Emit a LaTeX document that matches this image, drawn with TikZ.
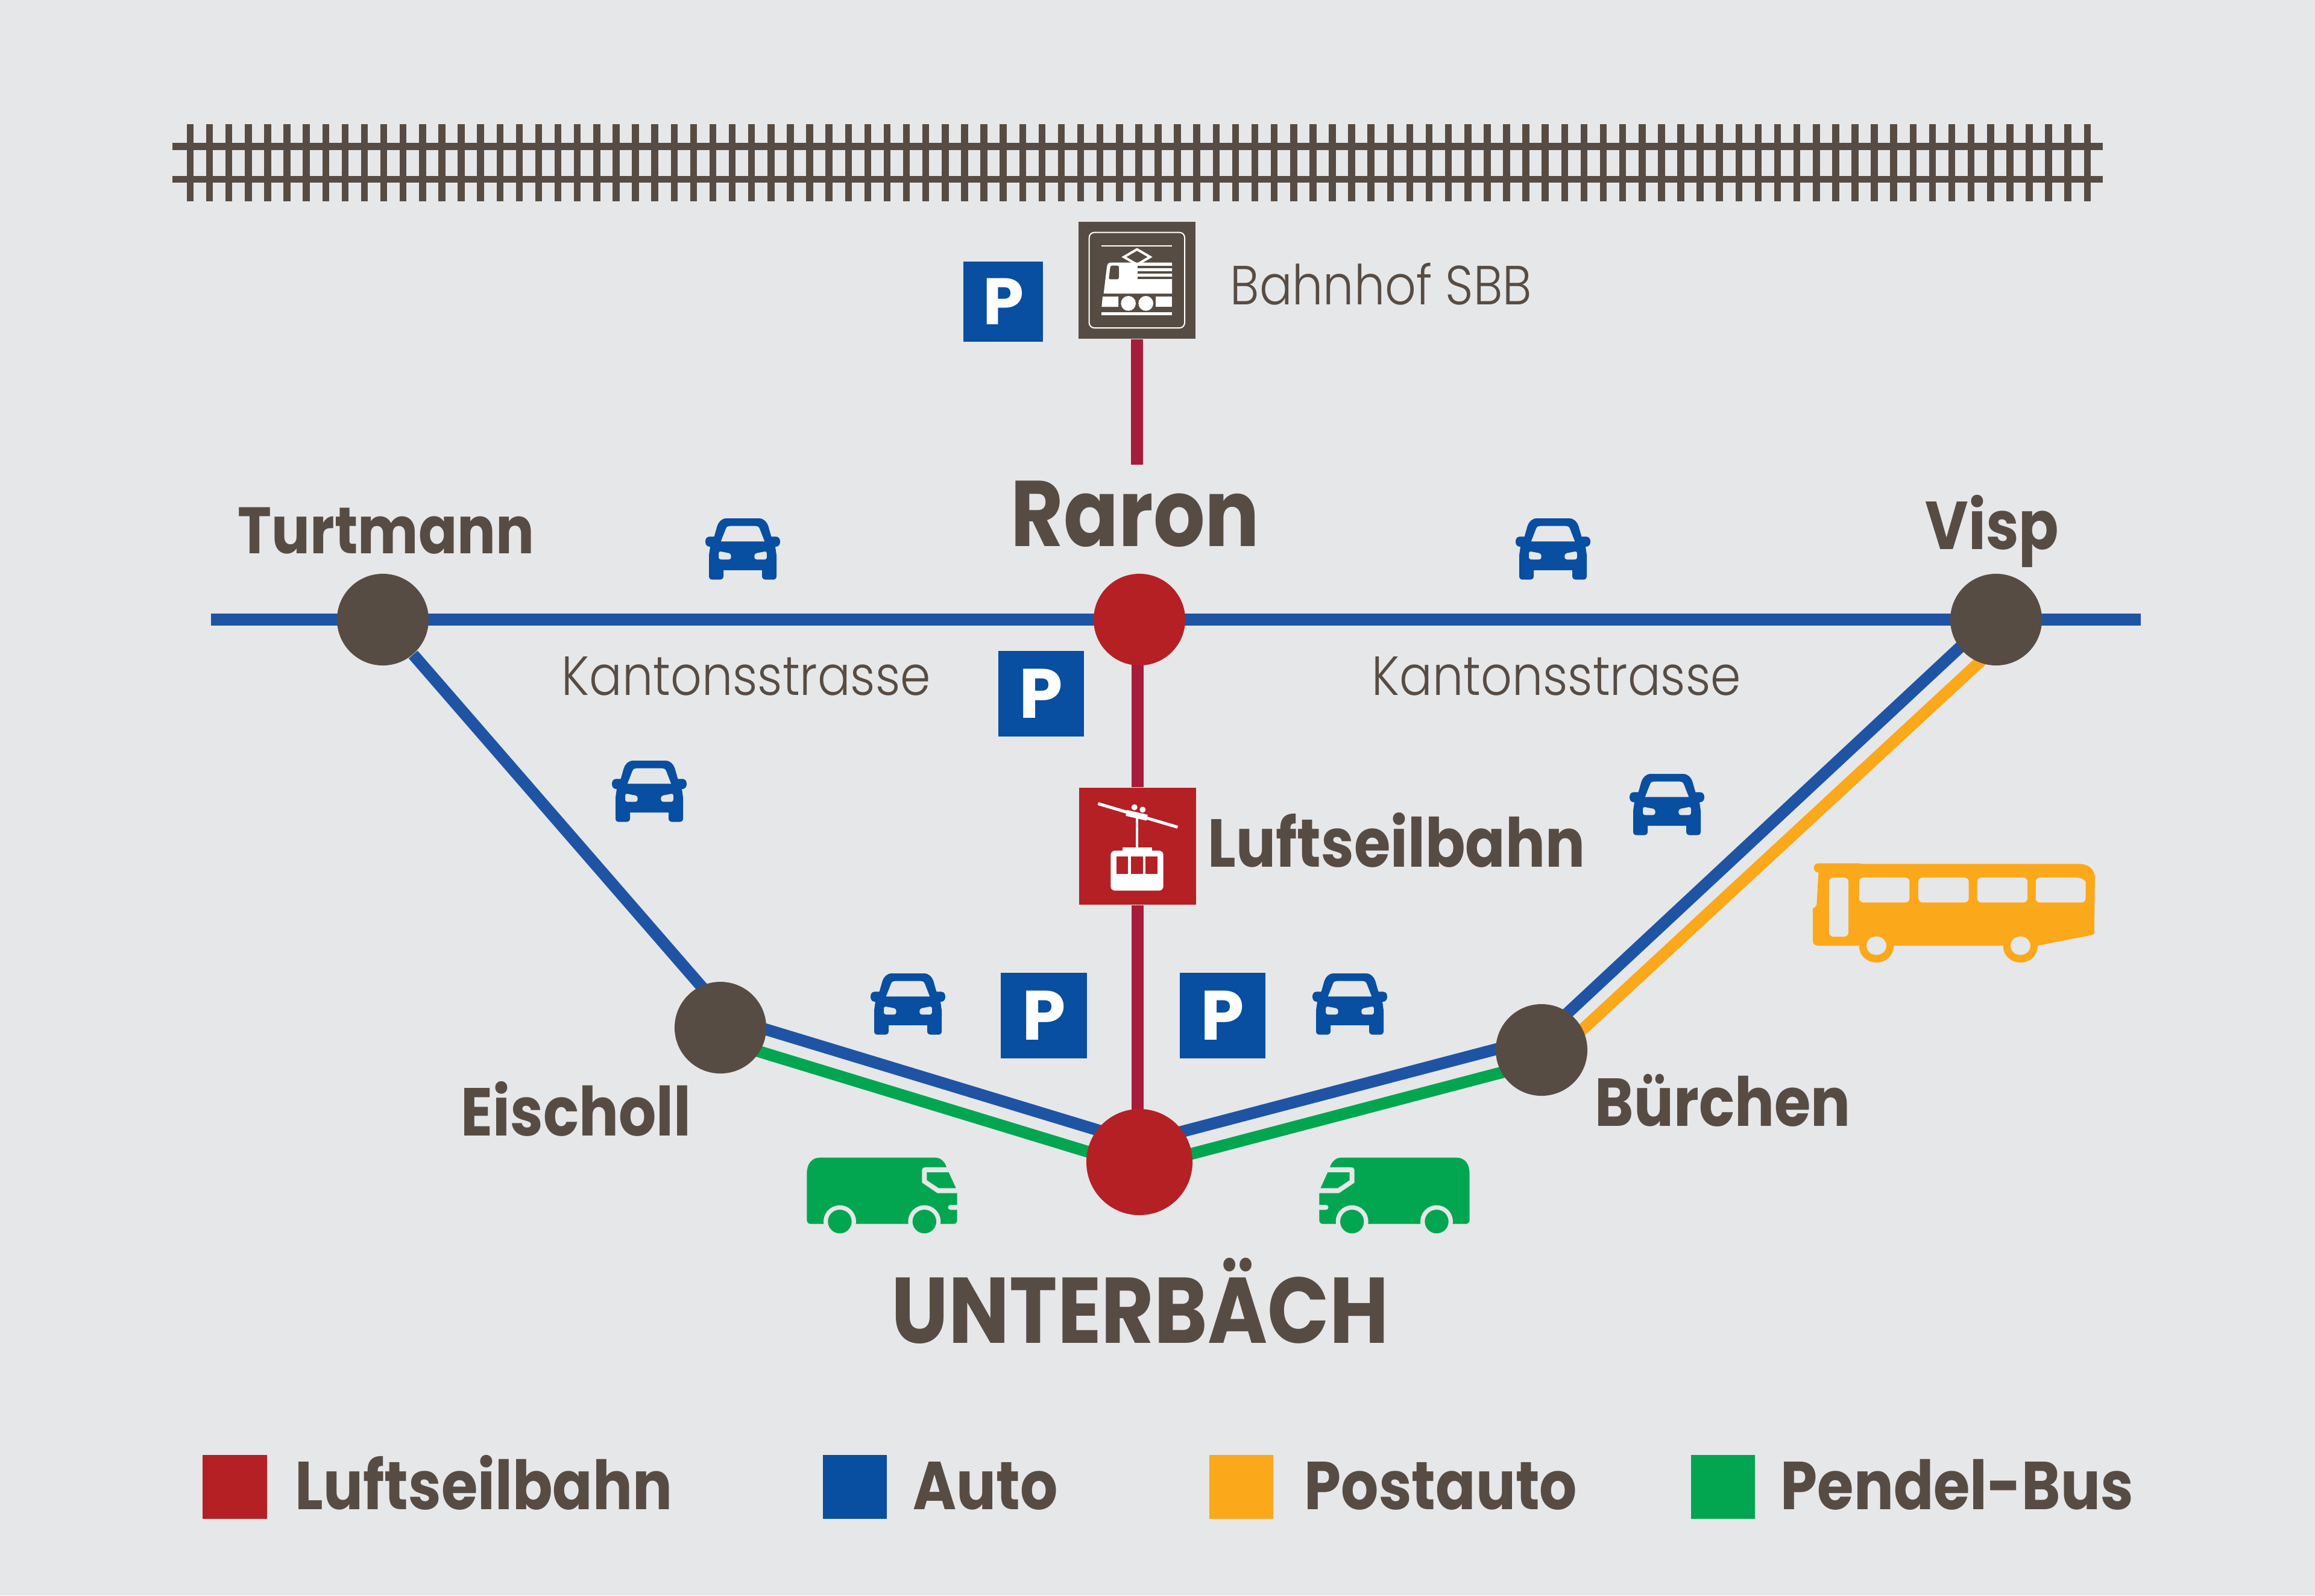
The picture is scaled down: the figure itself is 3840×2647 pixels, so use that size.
\documentclass[tikz,border=0pt]{standalone}
\usepackage{fontspec}
\setmainfont{Poppins}
\newfontfamily\namefont{Poppins Bold}[FakeStretch=0.87]
\newfontfamily\parkfont{Poppins Bold}
\newfontfamily\thinfont{Poppins Light}[FakeStretch=0.885]
\usetikzlibrary{backgrounds,calc}

\definecolor{paper}{HTML}{E6E7E9}
\definecolor{umber}{HTML}{574C43}
\definecolor{cablered}{HTML}{B52025}
\definecolor{wine}{HTML}{A71C3A}
\definecolor{roadblue}{HTML}{1F54A5}
\definecolor{signblue}{HTML}{084EA1}
\definecolor{postorange}{HTML}{FCA81B}
\definecolor{busgreen}{HTML}{02A651}

\tikzset{
	stopnode/.style={circle, fill=umber, minimum size=1.52cm, inner sep=0},
	bigstop/.style={stopnode, fill=cablered},
	parknode/.style={rectangle, fill=signblue, text=white, font=\fontsize{33}{33}\parkfont\selectfont, minimum size=1.42cm, inner sep=0},
	keybox/.style={rectangle, minimum size=1.06cm, inner sep=0},
	signbox/.style={rectangle, minimum size=1.94cm, inner sep=0},
	townname/.style={anchor=base west, inner sep=0, text=umber, font=\fontsize{32}{32}\namefont\selectfont},
	bigname/.style={anchor=base, inner sep=0, text=umber, font=\fontsize{44}{44}\namefont\selectfont},
	thinname/.style={anchor=base west, inner sep=0, text=umber, font=\fontsize{26}{26}\thinfont\selectfont},
	route/.style={line width=.195cm},
	rail/.style={draw=umber, line width=.115cm},
	pics/car/.style={code={
		\fill[signblue, even odd rule] (-80,-153) -- (80,-153) .. controls (105,-153) and (120,-135) .. (127,-115) -- (142,-62) -- (165,-62)
			.. controls (180,-62) and (186,-50) .. (186,-37) .. controls (186,-25) and (180,-12) .. (165,-12) -- (162,-12) -- (168,30) -- (168,135)
			.. controls (168,147) and (160,152) .. (150,152) -- (115,152) .. controls (103,152) and (96,145) .. (96,135) -- (96,105)
			-- (-96,105) -- (-96,135) .. controls (-96,145) and (-103,152) .. (-115,152) -- (-150,152) .. controls (-160,152) and (-168,147) .. (-168,135)
			-- (-168,30) -- (-162,-12) -- (-165,-12) .. controls (-180,-12) and (-186,-25) .. (-186,-37) .. controls (-186,-50) and (-180,-62) .. (-165,-62)
			-- (-142,-62) -- (-127,-115) .. controls (-120,-135) and (-105,-153) .. (-80,-153) -- cycle
			(-109,-38) -- (-85,-100) .. controls (-80,-112) and (-75,-115) .. (-65,-115) -- (65,-115) .. controls (75,-115) and (80,-112) .. (85,-100) -- (109,-38) -- cycle
			[rounded corners=1pt] (-120,10) -- (-58,22) -- (-58,52) -- (-120,52) -- cycle
			(120,10) -- (58,22) -- (58,52) -- (120,52) -- cycle;
	}},
	pics/van/.style={code={
		\begin{scope}[shift={(-999,-1207)}]
		\fill[busgreen] (625,1330) .. controls (625,1342) and (633,1350) .. (645,1350) -- (1355,1350) .. controls (1367,1350) and (1373,1342) .. (1373,1330)
			-- (1373,1280) -- (1340,1280) .. controls (1323,1280) and (1323,1255) .. (1340,1255) -- (1373,1255) -- (1373,1197) -- (1275,1197) -- (1198,1145)
			-- (1198,1085) .. controls (1198,1073) and (1203,1068) .. (1215,1068) -- (1320,1068) .. controls (1312,1040) and (1290,1020) .. (1265,1020)
			-- (690,1020) .. controls (650,1020) and (625,1050) .. (625,1100) -- cycle;
		\fill[busgreen] (1222,1093) -- (1331,1093) -- (1367,1172) -- (1282,1172) -- (1222,1132) -- cycle;
		\foreach \wx in {789,1210} {
			\fill[paper] (\wx,1338) circle (81);
			\fill[busgreen] (\wx,1338) circle (59);
		}
		\end{scope}
	}},
	pics/bus/.style={code={
		\begin{scope}[shift={(-815,-405)}]
		\foreach \wx in {455,1124} \fill[postorange] (\wx,571) circle (80);
		\fill[postorange] (185,157) -- (375,157) -- (390,160) -- (1400,160) .. controls (1440,160) and (1470,190) .. (1470,225) -- (1467,505) -- (1460,513) -- (1203,567)
			-- (185,567) .. controls (170,567) and (160,558) .. (160,545) -- (160,382) .. controls (170,378) and (178,368) .. (178,355) -- (186,203)
			.. controls (155,200) and (160,157) .. (185,157) -- cycle;
		\foreach \wx in {455,1124} \fill[paper] (\wx,567) circle (46);
		\fill[paper, rounded corners=2pt] (235,228) rectangle (325,522);
		\foreach \wx in {375,650,923} \fill[paper, rounded corners=2pt] (\wx,228) rectangle ++(234,124);
		\fill[paper, rounded corners=2pt] (1195,228) -- (1370,228) .. controls (1405,228) and (1427,245) .. (1427,270) -- (1427,352) -- (1195,352) -- cycle;
		\end{scope}
	}},
	pics/loco/.style={code={
		\begin{scope}[shift={(-1158,-496)}]
		\draw[white, line width=.02cm, rounded corners=2.4pt] (920,258) rectangle (1395,733);
		\fill[white] (982,321) rectangle (1333,329);
		\fill[white] (982,655) rectangle (1333,669);
		\draw[white, line width=.04cm] (1158,342) -- (1223,380) -- (1158,418) -- (1093,380) -- cycle;
		\fill[white] (1028,408) -- (1332,408) -- (1332,562) -- (992,562) -- (1008,430) .. controls (1010,415) and (1016,408) .. (1028,408) -- cycle;
		\fill[umber, rounded corners=.8pt] (1026,423) -- (1068,423) -- (1068,491) -- (1017,491) -- cycle;
		\foreach \sy in {423,450,478} \fill[umber] (1160,\sy) rectangle (1332,\sy+13);
		\fill[white] (987,577) -- (1065,577) -- (1065,628) -- (982,628) -- cycle;
		\fill[white] (1250,577) rectangle (1333,628);
		\foreach \wx in {1115,1202} \fill[white] (\wx,611) circle (37);
		\end{scope}
	}},
	pics/gondola/.style={code={
		\begin{scope}[shift={(-561,-462)}]
		\draw[white, line width=.05cm] (364,250) -- (760,367);
		\draw[white, line width=.1cm] (505,296) -- (608,320);
		\fill[white] (545,268) circle (15) (586,280) circle (15);
		\fill[white] (551,320) rectangle (563,470);
		\fill[white] (485,468) rectangle (632,490);
		\fill[white, rounded corners=2pt] (427,484) rectangle (689,683);
		\foreach \wx in {455,528,601} \fill[cablered] (\wx,514) rectangle ++(59,86);
		\end{scope}
	}}
}

\begin{document}
\begin{tikzpicture}[x=.01cm, y=-.01cm]
	\useasboundingbox (0,0) rectangle (3840,2647);

	% track
	\draw[rail] (286,243) -- (3488,243);
	\draw[rail] (286,297.5) -- (3488,297.5);
	\foreach \i in {0,...,98} {
		\draw[rail] ({315.5+\i*32.11},206) -- ({315.5+\i*32.11},334);
	}

	% stops
	\node[stopnode] (turtmann) at (635,1028) {};
	\node[bigstop] (raron) at (1890,1028) {};
	\node[stopnode] (visp) at (3311,1028) {};
	\node[stopnode] (eischoll) at (1195,1705) {};
	\node[stopnode] (buerchen) at (2557,1742) {};
	\node[bigstop, minimum size=1.76cm] (unterbaech) at (1890,1928) {};

	% signs
	\node[signbox, fill=umber] (bahnhof) at (1886,465) {};
	\node[signbox, fill=cablered] (seilbahn) at (1887,1404) {};
	\pic at (bahnhof) [scale=1/3] {loco};
	\pic at (seilbahn) [scale=1/3] {gondola};
	\coordinate (raronend) at (1886,771);
	\coordinate (roadwest) at (350,1028);
	\coordinate (roadeast) at (3551,1028);

	% routes
	\begin{scope}[on background layer]
		\fill[paper] (0,0) rectangle (3840,2647);
		\draw[route, wine] (bahnhof) -- (raronend);
		\draw[route, wine] ($(raron)+(-3,0)$) -- (seilbahn);
		\draw[route, wine] (seilbahn) -- ($(unterbaech)+(-3,0)$);
		\draw[route, roadblue] (roadwest) -- (roadeast);
		\draw[route, roadblue] (turtmann) -- ($(eischoll)+(0,-32)$);
		\draw[route, roadblue] ($(eischoll)+(0,-20)$) -- ($(unterbaech)+(0,-32)$);
		\draw[route, busgreen] ($(eischoll)+(0,20)$) -- ($(unterbaech)+(0,9)$);
		\draw[route, roadblue] ($(unterbaech)+(0,-32)$) -- ($(buerchen)+(0,-21)$);
		\draw[route, busgreen] ($(unterbaech)+(0,9)$) -- ($(buerchen)+(0,20)$);
		\draw[route, roadblue] ($(buerchen)+(0,-21)$) -- ($(visp)+(0,-10)$);
		\draw[route, postorange] ($(buerchen)+(0,29)$) -- ($(visp)+(0,45)$);
	\end{scope}

	% parking
	\node[parknode, minimum size=1.32cm, font=\fontsize{31}{31}\parkfont\selectfont] (parktop) at (1664,500.5) {P};
	\node[parknode] (parkmid) at (1727,1151) {P};
	\node[parknode] (parkleft) at (1731.5,1685) {P};
	\node[parknode] (parkright) at (2028,1685) {P};

	% vehicles
	\foreach \cx/\cy in {1232/911, 2576/911, 1077/1313, 2765/1335, 1506/1666, 2239/1666} {
		\pic at (\cx,\cy) [scale=1/3] {car};
	}
	\pic at (1463,1983) [scale=1/3] {van};
	\pic at (2313,1983) [xscale=-1/3, yscale=1/3] {van};
	\pic at (3241,1515) [xscale=1/2.8, yscale=1/3] {bus};

	% names
	\node[thinname] (bahnhofname) at (2040,505) {Bahnhof SBB};
	\node[bigname] (raronname) at (1883,906) {Raron};
	\node[bigname] (unterbaechname) at (1891,2228) {UNTERBÄCH};
	\node[townname, font=\fontsize{31}{31}\namefont\selectfont] (turtmannname) at (394,918) {Turtmann};
	\node[townname] (vispname) at (3193,911) {Visp};
	\node[townname] (eischollname) at (764,1884) {Eischoll};
	\node[townname] (buerchenname) at (2645,1868) {Bürchen};
	\node[townname] (seilbahnname) at (2003,1438) {Luftseilbahn};
	\node[thinname] (kantonwest) at (931,1153) {Kantonsstrasse};
	\node[thinname] (kantoneast) at (2275,1153) {Kantonsstrasse};

	% legend
	\node[keybox, fill=cablered] (keyred) at (389.5,2466.5) {};
	\node[keybox, fill=signblue] (keyblue) at (1418,2466.5) {};
	\node[keybox, fill=postorange] (keyorange) at (2059,2466.5) {};
	\node[keybox, fill=busgreen] (keygreen) at (2858,2466.5) {};
	\node[townname] (textred) at (489,2504) {Luftseilbahn};
	\node[townname] (textblue) at (1514,2504) {Auto};
	\node[townname] (textorange) at (2163,2504) {Postauto};
	\node[townname] (textgreen) at (2953,2504) {Pendel-Bus};
\end{tikzpicture}
\end{document}
